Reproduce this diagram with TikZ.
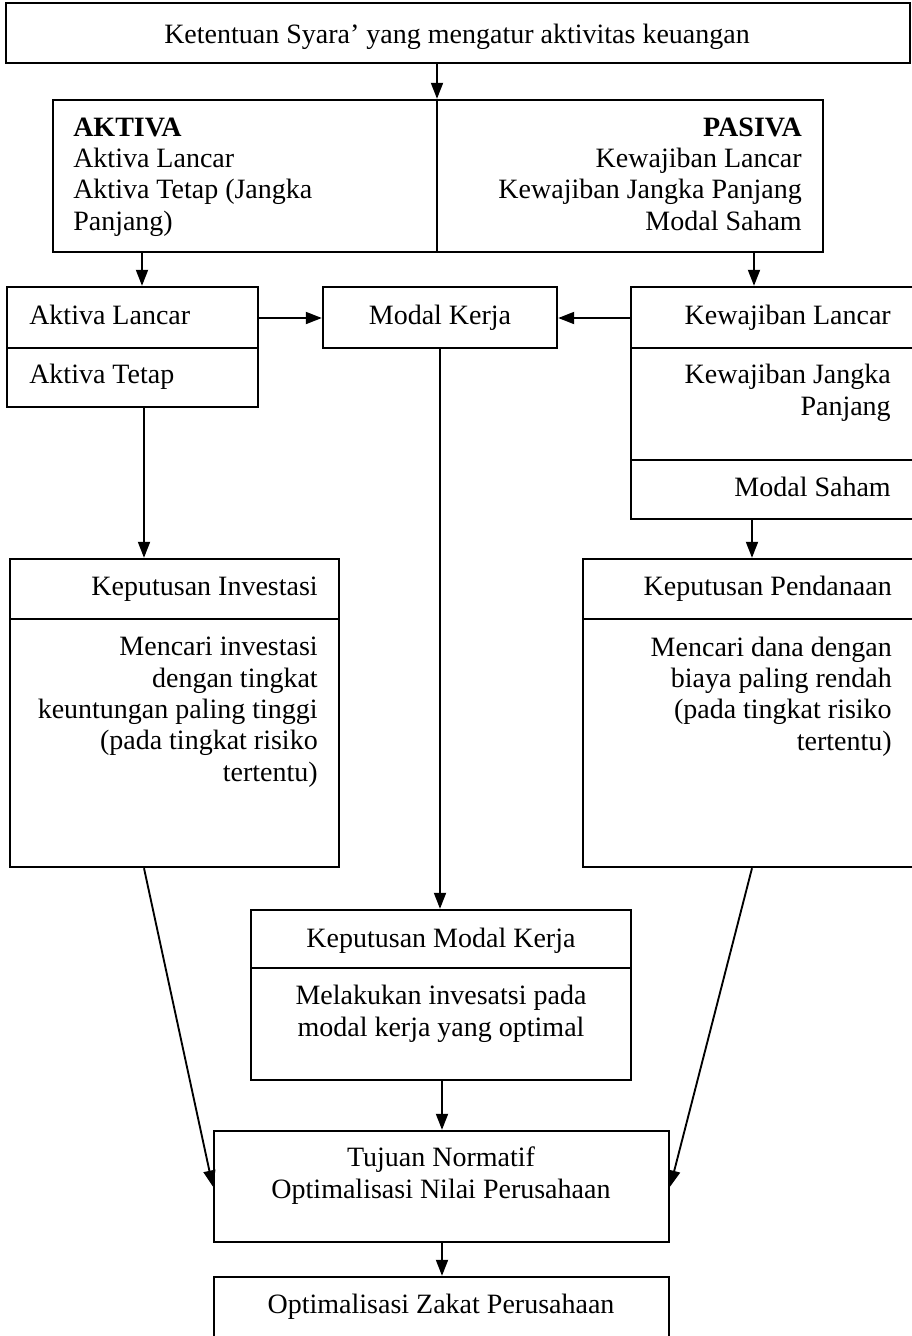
\documentclass[tikz,border=0pt]{standalone}
\usepackage{fontspec}
\setmainfont{Liberation Serif}
\usetikzlibrary{arrows.meta,fit,calc}
\begin{document}
\begin{tikzpicture}[x=0.75pt,y=-0.75pt,
  box/.style={draw, line width=1.8pt, inner sep=0pt},
  txt/.style={font=\fontsize{21pt}{23.5pt}\selectfont, inner sep=0pt},
  arr/.style={line width=1.4pt, -{Triangle[length=12pt,width=9pt]}}]
\useasboundingbox (0,0) rectangle (912,1336);
\fill[white] (0,0) rectangle (912,1336);
\clip (0,0) rectangle (912,1336);
% boxes
\node[box, fit={(6,3) (910,63)}] (top) {};
\node[box, fit={(53,100) (823,252)}] (ap) {};
\node[box, fit={(7,287) (258,348)}] (alancar) {};
\node[box, fit={(7,348) (258,407)}] (atetap) {};
\node[box, fit={(323,287) (557,348)}] (modal) {};
\node[box, fit={(631,287) (940,348)}] (klancar) {};
\node[box, fit={(631,348) (940,460)}] (kjangka) {};
\node[box, fit={(631,460) (940,519)}] (msaham) {};
\node[box, fit={(10,559) (339,619)}] (inv) {};
\node[box, fit={(10,619) (339,867)}] (invb) {};
\node[box, fit={(583,559) (940,619)}] (pend) {};
\node[box, fit={(583,619) (940,867)}] (pendb) {};
\node[box, fit={(251,910) (631,968)}] (kmk) {};
\node[box, fit={(251,968) (631,1080)}] (kmkb) {};
\node[box, fit={(214,1131) (669,1242)}] (tujuan) {};
\node[box, fit={(214,1277) (669,1370)}] (zakat) {};
% divider in aktiva/pasiva box
\draw[line width=1.8pt] (ap.north -| 437,0) -- (ap.south -| 437,0);
% texts (multi-line nodes anchored at the baseline of their last line)
\node[txt, anchor=base] (t1) at (457,43) {Ketentuan Syara’ yang mengatur aktivitas keuangan};
\node[txt, anchor=base west, align=left] (t2) at (73,230) {\textbf{AKTIVA}\\Aktiva Lancar\\Aktiva Tetap (Jangka\\Panjang)};
\node[txt, anchor=base east, align=right] (t3) at (802,230) {\textbf{PASIVA}\\Kewajiban Lancar\\Kewajiban Jangka Panjang\\Modal Saham};
\node[txt, anchor=base west] (t4) at (29,324) {Aktiva Lancar};
\node[txt, anchor=base west] (t5) at (29,383) {Aktiva Tetap};
\node[txt, anchor=base] (t6) at (440,324) {Modal Kerja};
\node[txt, anchor=base east] (t7) at (891,324) {Kewajiban Lancar};
\node[txt, anchor=base east, align=right] (t8) at (891,415) {Kewajiban Jangka\\Panjang};
\node[txt, anchor=base east] (t9) at (891,496) {Modal Saham};
\node[txt, anchor=base east] (t10) at (318,595) {Keputusan Investasi};
\node[txt, anchor=base east, align=right] (t11) at (318,781) {Mencari investasi\\dengan tingkat\\keuntungan paling tinggi\\(pada tingkat risiko\\tertentu)};
\node[txt, anchor=base east] (t12) at (892,595) {Keputusan Pendanaan};
\node[txt, anchor=base east, align=right] (t13) at (892,750) {Mencari dana dengan\\biaya paling rendah\\(pada tingkat risiko\\tertentu)};
\node[txt, anchor=base] (t14) at (441,947) {Keputusan Modal Kerja};
\node[txt, anchor=base, align=center] (t15) at (441,1036) {Melakukan invesatsi pada\\modal kerja yang optimal};
\node[txt, anchor=base, align=center] (t16) at (441,1198) {Tujuan Normatif\\Optimalisasi Nilai Perusahaan};
\node[txt, anchor=base] (t17) at (441,1313) {Optimalisasi Zakat Perusahaan};
% connectors
\draw[arr] (top.south -| 437,0) -- (ap.north -| 437,0);
\draw[arr] (ap.south -| 142,0) -- (alancar.north -| 142,0);
\draw[arr] (ap.south -| 754,0) -- (klancar.north -| 754,0);
\draw[arr] (alancar.east |- 0,318) -- (modal.west |- 0,318);
\draw[arr] (klancar.west |- 0,318) -- (modal.east |- 0,318);
\draw[arr] (atetap.south -| 144,0) -- (inv.north -| 144,0);
\draw[arr] (msaham.south -| 752,0) -- (pend.north -| 752,0);
\draw[arr] (modal.south -| 440,0) -- (kmk.north -| 440,0);
\draw[arr] (kmkb.south -| 442,0) -- (tujuan.north -| 442,0);
\draw[arr] (tujuan.south -| 442,0) -- (zakat.north -| 442,0);
\draw[arr] (invb.south -| 144,0) -- (tujuan.west);
\draw[arr] (pendb.south -| 752,0) -- (tujuan.east);
\end{tikzpicture}
\end{document}
